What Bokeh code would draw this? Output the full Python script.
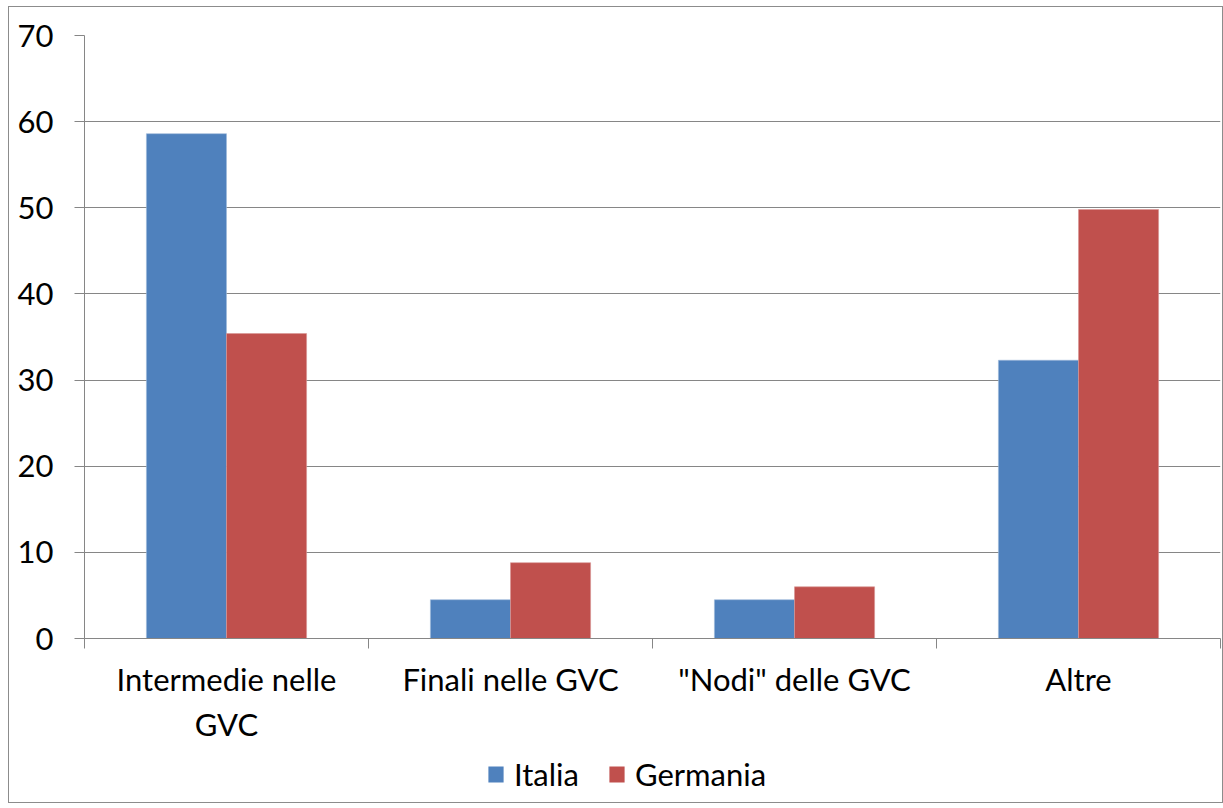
import numpy as np
from bokeh.plotting import figure
from bokeh.layouts import column
from bokeh.models import ColumnDataSource, Range1d, FixedTicker, Legend, LegendItem
from bokeh.transform import dodge
from bokeh.embed import file_html
from bokeh.resources import INLINE

categories = ["Intermedie nelle\nGVC", "Finali nelle GVC", "\"Nodi\" delle GVC", "Altre"]
series = ["Italia", "Germania"]
italia = [58.6, 4.5, 4.5, 32.3]
germania = [35.4, 8.8, 6.0, 49.8]
y_ticks = [0, 10, 20, 30, 40, 50, 60, 70]

FONT = "Lato"
FS = "31px"
GRID = "#868686"
COLORS = ["#4F81BD", "#C0504D"]
EDGES = ["#9db8da", "#d99694"]

xpos = [i + 0.5 for i in range(len(categories))]
src = ColumnDataSource(dict(x=xpos, italia=italia, germania=germania))

p = figure(frame_width=1136, frame_height=603, output_backend="svg", toolbar_location=None,
           x_range=Range1d(0, len(categories)), y_range=Range1d(0, 70),
           min_border_left=75, min_border_right=2, min_border_top=28, min_border_bottom=114)
p.outline_line_color = None
p.background_fill_color = "white"
p.border_fill_color = "white"

bw = 0.282
r1 = p.vbar(x=dodge("x", -bw / 2, range=p.x_range), top="italia", width=bw, source=src,
            fill_color=COLORS[0], line_color=EDGES[0], line_width=0.6)
r2 = p.vbar(x=dodge("x", bw / 2, range=p.x_range), top="germania", width=bw, source=src,
            fill_color=COLORS[1], line_color=EDGES[1], line_width=0.6)

# y axis
p.yaxis.ticker = FixedTicker(ticks=y_ticks)
p.yaxis.axis_line_color = GRID
p.yaxis.major_tick_line_color = GRID
p.yaxis.major_tick_out = 10
p.yaxis.major_tick_in = 0
p.yaxis.minor_tick_line_color = None
p.yaxis.major_label_text_font = FONT
p.yaxis.major_label_text_font_size = FS
p.yaxis.major_label_text_color = "black"
p.yaxis.major_label_standoff = 21

# x axis
p.xaxis.ticker = FixedTicker(ticks=xpos, minor_ticks=list(range(len(categories) + 1)))
p.xaxis.major_label_overrides = {x: c for x, c in zip(xpos, categories)}
p.xaxis.axis_line_color = GRID
p.xaxis.major_tick_line_color = None
p.xaxis.major_tick_out = 0
p.xaxis.major_tick_in = 0
p.xaxis.minor_tick_line_color = GRID
p.xaxis.minor_tick_out = 10
p.xaxis.minor_tick_in = 0
p.xaxis.major_label_text_font = FONT
p.xaxis.major_label_text_font_size = FS
p.xaxis.major_label_text_color = "black"
p.xaxis.major_label_standoff = 11

p.xgrid.grid_line_color = None
p.ygrid.ticker = FixedTicker(ticks=y_ticks)
p.ygrid.grid_line_color = GRID
p.ygrid.grid_line_width = 1

# legend strip (separate small figure below the chart); its bars lie outside its view
lg = figure(width=1213, height=50, output_backend="svg", toolbar_location=None,
            x_range=Range1d(0, len(categories)), y_range=Range1d(1000, 1001),
            x_axis_location=None, y_axis_location=None,
            min_border_left=0, min_border_right=0, min_border_top=0, min_border_bottom=0)
lg.outline_line_color = None
lg.xgrid.grid_line_color = None
lg.ygrid.grid_line_color = None
lg.background_fill_color = "white"
lg.border_fill_color = "white"
lr1 = lg.vbar(x="x", top="italia", width=bw, source=src, fill_color=COLORS[0], line_color=None)
lr2 = lg.vbar(x="x", top="germania", width=bw, source=src, fill_color=COLORS[1], line_color=None)

legend = Legend(items=[LegendItem(label=series[0], renderers=[lr1]),
                       LegendItem(label=series[1], renderers=[lr2])],
                orientation="horizontal", location=(402, 9),
                label_text_font=FONT, label_text_font_size=FS, label_text_color="black",
                glyph_width=19, glyph_height=20, label_standoff=9, spacing=28,
                border_line_color=None, background_fill_alpha=0, margin=0, padding=6)
lg.add_layout(legend, "center")

layout = column(p, lg, spacing=0, margin=(6, 0, 0, 8),
                styles={"border": "1px solid #8c8c8c", "background-color": "white"})

open("out.html", "w").write(file_html(layout, INLINE))
